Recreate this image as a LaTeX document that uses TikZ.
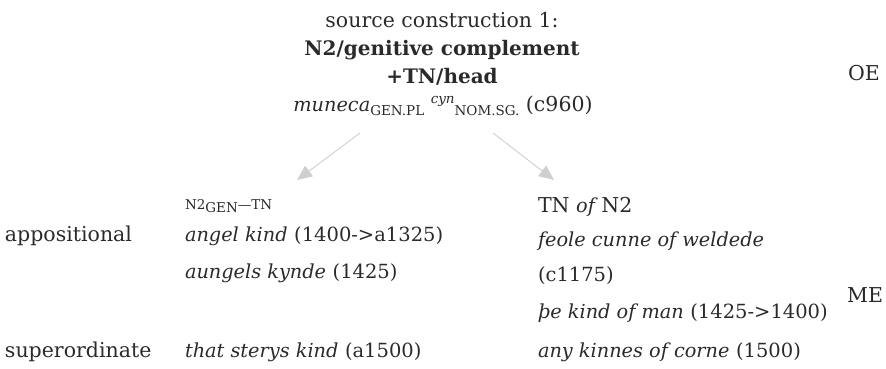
\documentclass[tikz,border=0pt]{standalone}
\usepackage{fontspec}
\setmainfont{DejaVu Serif}
\usetikzlibrary{arrows.meta}
\definecolor{ink}{HTML}{2A2A2A}
\definecolor{arrowgray}{HTML}{CFCFCF}
\tikzset{
  txt/.style={inner sep=0pt, outer sep=0pt, text=ink, font=\fontsize{20.5}{24}\selectfont},
  lbl/.style={txt, anchor=base west},
  ctr/.style={txt, anchor=base},
  small/.style={txt, anchor=base west, font=\fontsize{13.5}{16}\selectfont},
  derive/.style={draw=arrowgray, line width=0.9pt, -{Triangle[length=15pt,width=13pt]}},
}
% italic example forms, dates and glosses
\newcommand{\ex}[1]{{\fontsize{19.3}{23}\selectfont\itshape #1}}
\newcommand{\yr}[1]{{\fontsize{19.5}{23}\selectfont #1}}
\newcommand{\gl}[1]{{\fontsize{13.5}{14}\selectfont #1}}
\begin{document}
\begin{tikzpicture}[x=1pt,y=-1pt]
  \useasboundingbox (0,0) rectangle (886,368);

  % source construction
  \node[ctr] (s1) at (442,27) {source construction 1:};
  \node[ctr, font=\fontsize{20}{24}\selectfont\bfseries] (s2) at (442,55) {N2/genitive complement};
  \node[ctr, font=\fontsize{20}{24}\selectfont\bfseries] (s3) at (442,83) {+TN/head};
  \node[ctr] (s4) at (443,111) {\ex{muneca}\raisebox{-4pt}{\gl{GEN.PL}} \raisebox{8pt}{\gl{\itshape cyn}}\raisebox{-4pt}{\gl{NOM.SG.}} (c960)};

  % period labels
  \node[lbl] (oe) at (848,80) {OE};
  \node[lbl] (me) at (847,302) {ME};

  % left branch: genitive pattern
  \node[small] (lh) at (185,209) {N2\raisebox{-3pt}{GEN}—TN};
  \node[lbl] (ap) at (5,241) {appositional};
  \node[lbl] (l1) at (185,241) {\ex{angel kind} \yr{(1400->a1325)}};
  \node[lbl] (l2) at (185,278) {\ex{aungels kynde} \yr{(1425)}};
  \node[lbl] (so) at (5,357) {superordinate};
  \node[lbl] (l3) at (185,357) {\ex{that sterys kind} \yr{(a1500)}};

  % right branch: prepositional pattern
  \node[lbl] (rh) at (538,212) {TN \ex{of} N2};
  \node[lbl] (r1) at (538,246) {\ex{feole cunne of weldede}};
  \node[lbl] (r2) at (538,281) {\yr{(c1175)}};
  \node[lbl] (r3) at (538,318) {\ex{þe kind of man} \yr{(1425->1400)}};
  \node[lbl] (r4) at (538,357) {\ex{any kinnes of corne} \yr{(1500)}};

  % derivation arrows
  \coordinate (la) at (360,133);
  \coordinate (lb) at (297,180);
  \coordinate (ra) at (493,133);
  \coordinate (rb) at (554,180);
  \draw[derive] (la) -- (lb);
  \draw[derive] (ra) -- (rb);
\end{tikzpicture}
\end{document}
